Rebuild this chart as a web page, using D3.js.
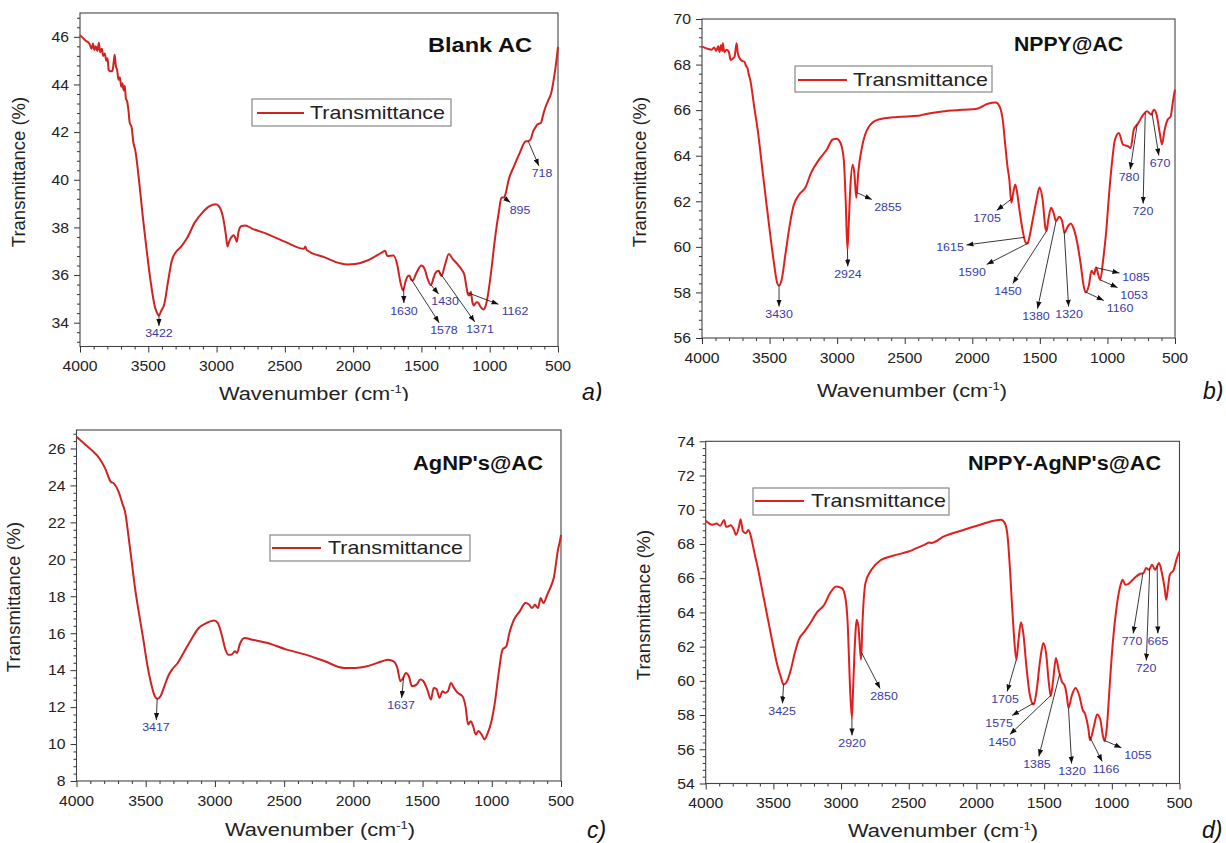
<!DOCTYPE html>
<html>
<head>
<meta charset="utf-8">
<script src="https://cdn.jsdelivr.net/npm/d3@7"></script>
<style>
  body { margin: 0; background: #fff; }
  svg { display: block; }
</style>
</head>
<body>
<svg id="fig" width="1226" height="843"></svg>
<script>
// ---------- FTIR spectra: wavenumber (cm-1) and transmittance (%) ----------

// a) Blank AC
const blankAcWn = [4000,3960,3930,3915,3905,3895,3885,3872,3862,3852,3840,3830,3818,3808,3798,3790,3776,3762,3752,3746,3738,3728,3718,3708,3698,3690,3680,3672,3664,3655,3645,3636,3622,3610,3594,3566,3538,3510,3482,3454,3435,3422,3405,3384,3356,3328,3300,3258,3216,3160,3104,3048,3006,2978,2950,2932,2920,2908,2890,2874,2862,2852,2840,2820,2790,2740,2628,2488,2360,2350,2340,2208,2100,2040,1984,1900,1788,1766,1750,1704,1676,1654,1634,1618,1600,1588,1574,1564,1536,1500,1476,1452,1430,1410,1396,1374,1354,1326,1300,1270,1228,1200,1185,1172,1160,1150,1138,1128,1116,1100,1088,1066,1046,1030,1018,990,962,934,914,895,880,864,822,780,738,718,700,682,665,654,640,626,610,598,570,550,528,514,500];
const blankAcT = [46.07,45.85,45.7,45.5,45.72,45.45,45.6,45.4,45.75,45.35,45.5,45.2,45.3,45.0,45.1,44.6,44.55,44.58,45.0,45.25,44.8,44.6,44.2,44.3,43.9,44.05,43.75,43.95,43.4,43.3,42.9,42.4,42.2,41.6,41.2,39.87,38.34,36.95,35.7,34.72,34.4,34.3,34.5,34.75,35.7,36.6,36.95,37.2,37.55,38.2,38.62,38.9,38.97,38.85,38.34,37.7,37.2,37.4,37.6,37.67,37.55,37.4,37.8,38.05,38.08,37.95,37.72,37.37,37.1,37.2,37.05,36.74,36.5,36.44,36.46,36.6,36.95,37.02,36.8,36.82,36.4,35.7,35.35,35.7,35.95,35.98,35.8,35.77,36.1,36.4,36.25,35.8,35.58,35.9,36.1,36.18,35.96,36.46,36.88,36.67,36.4,36.18,36.0,35.56,35.2,35.14,35.3,34.9,34.72,34.85,34.86,34.65,34.55,34.7,35.0,36.12,37.5,38.62,39.25,39.25,39.5,39.94,40.57,41.13,41.61,41.62,41.7,42.03,42.2,42.3,42.35,42.38,42.7,42.94,43.35,43.63,44.33,44.89,45.58];
const blankAcPeaks = [3422,1630,1578,1430,1371,1162,895,718];
const blankAcYTicks = [34,36,38,40,42,44,46];

// b) NPPY@AC
const nppyAcWn = [4000,3960,3930,3910,3895,3880,3870,3860,3850,3846,3835,3820,3802,3788,3775,3759,3744,3735,3721,3700,3686,3675,3663,3655,3643,3614,3585,3556,3527,3497,3468,3445,3430,3410,3381,3352,3323,3280,3236,3193,3134,3076,3033,3004,2975,2951,2937,2924,2917,2902,2885,2873,2858,2844,2815,2771,2699,2554,2400,2350,2205,2060,1973,1885,1827,1798,1775,1755,1740,1726,1711,1697,1682,1668,1648,1624,1605,1590,1581,1552,1524,1503,1480,1457,1450,1437,1417,1399,1380,1358,1335,1318,1292,1272,1248,1219,1196,1176,1161,1138,1118,1097,1085,1065,1053,1031,1010,987,964,944,915,885,849,828,805,772,735,707,676,656,636,613,596,579,555,532,517,505,500];
const nppyAcT = [68.79,68.7,68.65,68.75,68.6,68.8,68.55,68.85,68.6,68.94,68.55,68.65,68.57,68.2,68.25,68.35,68.94,68.5,68.28,68.15,68.13,67.95,67.84,67.6,67.33,66.16,65.0,63.54,62.08,60.62,59.31,58.45,58.3,58.58,59.75,60.91,61.79,62.3,62.59,63.25,63.83,64.27,64.71,64.74,64.56,63.83,62.08,59.89,60.62,62.66,63.6,63.25,62.15,63.25,64.41,65.22,65.58,65.7,65.75,65.82,65.95,66.02,66.05,66.28,66.33,66.16,65.58,64.41,63.54,62.96,61.94,62.37,62.74,62.37,61.5,60.62,60.19,60.15,60.33,61.21,62.08,62.6,62.08,60.77,60.7,61.21,61.72,61.5,61.13,61.32,61.13,60.62,60.91,61.03,60.77,60.04,59.16,58.29,58.0,58.29,58.95,58.8,59.09,58.73,58.55,59.46,60.62,62.37,63.83,64.71,65.0,64.49,64.42,64.34,65.14,65.43,65.8,65.95,65.8,66.02,65.8,65.0,64.49,65.07,65.58,65.73,66.31,66.75,66.9];
const nppyAcPeaks = [3430,2924,2855,1705,1615,1590,1450,1380,1320,1160,1085,1053,780,720,670];
const nppyAcYTicks = [56,58,60,62,64,66,68,70];

// c) AgNP's@AC
const agnpAcWn = [4000,3945,3890,3834,3793,3752,3730,3696,3669,3647,3627,3600,3572,3545,3517,3489,3462,3434,3417,3393,3365,3338,3310,3269,3227,3172,3117,3062,3006,2979,2951,2924,2904,2882,2855,2841,2819,2786,2730,2620,2482,2344,2206,2068,1985,1902,1792,1751,1709,1682,1660,1640,1621,1599,1577,1544,1516,1494,1466,1439,1420,1400,1378,1356,1337,1317,1295,1273,1246,1212,1190,1171,1152,1135,1116,1096,1074,1052,1033,1005,978,950,923,895,873,840,798,757,729,710,688,666,647,627,600,564,550,536,522,506,500];
const agnpAcT = [26.63,26.27,25.91,25.46,24.92,24.2,24.11,23.66,23.03,22.49,21.41,19.79,18.17,16.91,15.65,14.3,13.31,12.59,12.45,12.59,13.13,13.67,14.03,14.39,14.93,15.65,16.28,16.55,16.69,16.55,15.92,15.11,14.84,14.84,15.02,14.93,15.43,15.74,15.65,15.47,15.11,14.84,14.48,14.12,14.12,14.21,14.48,14.57,14.48,14.12,13.4,13.58,13.85,13.67,13.13,13.22,13.49,13.4,12.95,12.41,13.04,12.99,12.5,12.86,12.77,12.86,13.31,13.04,12.77,12.59,12.05,11.06,11.24,10.97,10.52,10.7,10.52,10.25,10.52,11.15,12.23,13.85,15.11,15.29,16.01,16.73,17.18,17.63,17.54,17.36,17.54,17.36,17.9,17.63,18.08,18.71,19.07,19.79,20.51,21.05,21.32];
const agnpAcPeaks = [3417,1637];
const agnpAcYTicks = [8,10,12,14,16,18,20,22,24,26];

// d) NPPY-AgNP's@AC
const nppyAgnpWn = [4000,3951,3920,3893,3864,3850,3835,3815,3791,3777,3754,3742,3725,3704,3684,3669,3655,3637,3617,3588,3559,3530,3501,3472,3443,3425,3400,3371,3342,3313,3269,3226,3182,3124,3081,3037,2994,2970,2950,2936,2920,2913,2901,2884,2872,2852,2843,2820,2776,2704,2617,2501,2385,2345,2335,2240,2095,1950,1863,1819,1790,1770,1752,1738,1724,1705,1689,1671,1654,1631,1608,1578,1558,1529,1506,1486,1465,1451,1433,1413,1393,1370,1346,1332,1320,1297,1268,1239,1216,1196,1172,1162,1132,1109,1085,1065,1053,1036,1016,993,964,935,920,900,877,834,790,767,746,726,703,680,651,630,610,598,587,572,543,523,506,500];
const nppyAgnpT = [69.35,69.12,69.2,69.06,69.4,69.0,69.02,69.1,68.82,68.53,69.02,69.45,68.73,68.63,68.82,68.53,68.05,67.37,66.68,65.52,64.35,63.18,62.02,60.95,60.17,59.78,59.97,60.65,61.63,62.4,62.89,63.38,63.96,64.45,65.13,65.52,65.42,64.93,63.18,60.07,57.83,59.1,61.63,63.57,63.18,61.24,63.18,65.71,66.49,67.07,67.31,67.56,67.95,68.08,68.06,68.44,68.82,69.18,69.37,69.41,69.21,68.44,66.49,64.54,62.79,61.24,62.4,63.42,62.79,60.85,59.29,58.61,59.29,61.24,62.21,61.63,59.88,59.1,60.07,61.33,60.65,59.97,59.68,59.1,58.42,59.1,59.58,59.1,58.32,58.03,57.15,56.53,57.35,58.03,57.74,56.76,56.47,57.35,59.68,62.21,64.35,65.61,65.91,65.61,65.67,66.0,66.26,66.3,66.59,66.49,66.78,66.49,66.88,66.3,65.42,64.74,65.32,66.2,66.49,67.07,67.46,67.56];
const nppyAgnpPeaks = [3425,2920,2850,1705,1575,1450,1385,1320,1166,1055,770,720,665];
const nppyAgnpYTicks = [54,56,58,60,62,64,66,68,70,72,74];

// shared x axis
const xTickValues = [4000,3500,3000,2500,2000,1500,1000,500];
const legendText = "Transmittance";

// ---------- layout ----------
const FONT = "'Liberation Sans', Arial, Helvetica, sans-serif";
const panels = [
  { wn: blankAcWn, tr: blankAcT, peaks: blankAcPeaks, yTicks: blankAcYTicks, yDomain: [33, 47],
    frame: { l: 80, r: 558, t: 13, b: 346.5 }, color: "#cf2222",
    title: { text: "Blank AC", x: 428, y: 52, w: 104 },
    legend: { x: 252, y: 99, w: 199, h: 27, lx0: 257, lx1: 304, tx: 310, ty: 119 },
    yTitle: { x: 25, y: 172 }, xTitle: { x: 314, y: 400 }, tag: { text: "a)", x: 582, y: 400 },
    labelAt: [[3422,33.55],[1628,34.51],[1335,33.68],[1327,34.89],[1071,33.72],[815,34.51],[778,38.73],[617,40.27]] },
  { wn: nppyAcWn, tr: nppyAcT, peaks: nppyAcPeaks, yTicks: nppyAcYTicks, yDomain: [56, 70],
    frame: { l: 702, r: 1175, t: 19, b: 338 }, color: "#e01f1f",
    title: { text: "NPPY@AC", x: 1014, y: 51, w: 109 },
    legend: { x: 795, y: 66, w: 197, h: 26, lx0: 798, lx1: 847, tx: 853, ty: 86 },
    yTitle: { x: 645.5, y: 172 }, xTitle: { x: 912, y: 397 }, tag: { text: "b)", x: 1203, y: 399 },
    labelAt: [[3430,57.05],[2920,58.81],[2624,61.75],[1891,61.27],[2165,59.99],[2002,58.9],[1736,58.06],[1529,56.96],[1284,57.05],[907,57.32],[789,58.68],[803,57.89],[840,63.07],[737,61.57],[611,63.68]] },
  { wn: agnpAcWn, tr: agnpAcT, peaks: agnpAcPeaks, yTicks: agnpAcYTicks, yDomain: [8, 27],
    frame: { l: 76.5, r: 561, t: 430, b: 781 }, color: "#cf2222",
    title: { text: "AgNP's@AC", x: 413, y: 470, w: 130 },
    legend: { x: 270, y: 535, w: 200, h: 26, lx0: 272, lx1: 321, tx: 328, ty: 554 },
    yTitle: { x: 19.5, y: 597 }, xTitle: { x: 320, y: 836 }, tag: { text: "c)", x: 587, y: 838 },
    labelAt: [[3426,10.9],[1656,12.09]] },
  { wn: nppyAgnpWn, tr: nppyAgnpT, peaks: nppyAgnpPeaks, yTicks: nppyAgnpYTicks, yDomain: [54, 74],
    frame: { l: 705.7, r: 1179.5, t: 441.3, b: 783.5 }, color: "#e01f1f",
    title: { text: "NPPY-AgNP's@AC", x: 968, y: 470, w: 193 },
    legend: { x: 753, y: 488, w: 196, h: 27, lx0: 755, lx1: 804, tx: 811, ty: 507 },
    yTitle: { x: 649.5, y: 605 }, xTitle: { x: 943, y: 837 }, tag: { text: "d)", x: 1202, y: 838 },
    labelAt: [[3436,58.24],[2919,56.37],[2683,59.11],[1789,58.94],[1833,57.54],[1811,56.43],[1553,55.14],[1294,54.73],[1043,54.85],[807,55.67],[851,62.33],[747,60.75],[659,62.33]] }
];

const svg = d3.select("#fig");
svg.append("rect").attr("width", 1226).attr("height", 843).attr("fill", "#fff");

const defs = svg.append("defs");
defs.append("marker")
  .attr("id", "head").attr("viewBox", "0 0 8 6")
  .attr("refX", 8).attr("refY", 3)
  .attr("markerWidth", 7).attr("markerHeight", 5.5)
  .attr("markerUnits", "userSpaceOnUse").attr("orient", "auto")
  .append("path").attr("d", "M0,0 L8,3 L0,6 Z").attr("fill", "#111");
// the top row is cut off just below its axis titles
defs.append("clipPath").attr("id", "topRow")
  .append("rect").attr("x", 0).attr("y", 0).attr("width", 1226).attr("height", 401);

// text drawn with a slight horizontal stretch
function stext(parent, x, y, str, o) {
  return parent.append("text")
    .attr("transform", `translate(${x},${y}) scale(${o.sx || 1},1)`)
    .attr("text-anchor", o.anchor || "start")
    .attr("font-family", FONT)
    .attr("font-size", o.size)
    .attr("font-weight", o.weight || "normal")
    .attr("font-style", o.style || "normal")
    .attr("fill", o.fill || "#222")
    .text(str);
}

function valueAt(wn, tr, w) {
  for (let i = 0; i < wn.length - 1; i++) {
    if (wn[i] >= w && wn[i + 1] <= w) {
      const f = (wn[i] - w) / (wn[i] - wn[i + 1]);
      return tr[i] + f * (tr[i + 1] - tr[i]);
    }
  }
  return tr[tr.length - 1];
}

panels.forEach((p, pi) => {
  const f = p.frame;
  const g = svg.append("g");
  if (pi < 2) g.attr("clip-path", "url(#topRow)");
  const x = d3.scaleLinear().domain([4000, 500]).range([f.l, f.r]);
  const y = d3.scaleLinear().domain(p.yDomain).range([f.b, f.t]);

  // minor ticks (4 between majors)
  const xMinor = d3.range(4000, 499, -100).filter(v => v % 500 !== 0);
  const yStep = (p.yTicks[1] - p.yTicks[0]) / 5;
  const yMinor = [];
  for (let v = p.yTicks[0] - 5 * yStep; v <= p.yDomain[1] + 1e-6; v += yStep) {
    const k = (v - p.yTicks[0]) / (5 * yStep);
    const isMajor = Math.abs(k - Math.round(k)) < 1e-6;
    if (v >= p.yDomain[0] - 1e-6 && !isMajor) yMinor.push(+v.toFixed(3));
  }

  g.append("g").attr("transform", `translate(0,${f.b})`)
    .call(d3.axisBottom(x).tickValues(xTickValues).tickSize(6).tickFormat(""));
  g.append("g").attr("transform", `translate(0,${f.b})`)
    .call(d3.axisBottom(x).tickValues(xMinor).tickSize(3).tickFormat(""));
  g.append("g").attr("transform", `translate(${f.l},0)`)
    .call(d3.axisLeft(y).tickValues(p.yTicks).tickSize(6).tickFormat(""));
  g.append("g").attr("transform", `translate(${f.l},0)`)
    .call(d3.axisLeft(y).tickValues(yMinor).tickSize(3).tickFormat(""));
  g.selectAll(".domain").remove();
  g.selectAll(".tick line").attr("stroke", "#333").attr("stroke-width", 1);

  // frame
  g.append("rect").attr("x", f.l).attr("y", f.t)
    .attr("width", f.r - f.l).attr("height", f.b - f.t)
    .attr("fill", "none").attr("stroke", "#444").attr("stroke-width", 1.1);

  // tick labels
  xTickValues.forEach(v => stext(g, x(v), f.b + 24.5, String(v), { size: 15, anchor: "middle", sx: 1.05 }));
  p.yTicks.forEach(v => stext(g, f.l - 11, y(v) + 5.3, String(v), { size: 15, anchor: "end", sx: 1.05 }));

  // axis titles
  const xt = stext(g, p.xTitle.x, p.xTitle.y, "", { size: 18.5, anchor: "middle", sx: 1.18 });
  xt.append("tspan").text("Wavenumber (cm");
  xt.append("tspan").attr("font-size", 11).attr("dy", -7.5).text("-1");
  xt.append("tspan").attr("dy", 7.5).text(")");
  g.append("text")
    .attr("transform", `translate(${p.yTitle.x},${p.yTitle.y}) rotate(-90)`)
    .attr("text-anchor", "middle").attr("font-family", FONT).attr("font-size", 18.5)
    .attr("fill", "#222").text("Transmittance (%)");

  // spectrum
  const pts = p.wn.map((w, i) => [w, p.tr[i]]);
  g.append("path").datum(pts)
    .attr("fill", "none").attr("stroke", p.color).attr("stroke-width", 2)
    .attr("stroke-linejoin", "round")
    .attr("d", d3.line().x(d => x(d[0])).y(d => y(d[1])).curve(d3.curveMonotoneX));

  // peak annotations
  p.peaks.forEach((w, i) => {
    const ax = x(w), ay = y(valueAt(p.wn, p.tr, w));
    const lx = x(p.labelAt[i][0]), ly = y(p.labelAt[i][1]);
    const txt = String(w);
    const hw = txt.length * 3.5 + 2.5, hh = 5 + 2.5;
    const dx = lx - ax, dy = ly - ay;
    const s = Math.min(Math.abs(dx) > 0.01 ? hw / Math.abs(dx) : Infinity,
                       Math.abs(dy) > 0.01 ? hh / Math.abs(dy) : Infinity);
    const tx = lx - dx * s, ty = ly - dy * s;
    g.append("line").attr("x1", ax).attr("y1", ay).attr("x2", tx).attr("y2", ty)
      .attr("stroke", "#222").attr("stroke-width", 0.9).attr("marker-end", "url(#head)");
    stext(g, lx, ly + 4, txt, { size: 11, anchor: "middle", sx: 1.13, fill: "#3a3aa6" });
  });

  // panel title
  g.append("text").attr("x", p.title.x).attr("y", p.title.y)
    .attr("font-family", FONT).attr("font-size", 19.5).attr("font-weight", "bold")
    .attr("fill", "#111").attr("textLength", p.title.w).attr("lengthAdjust", "spacingAndGlyphs")
    .text(p.title.text);

  // legend
  const L = p.legend;
  g.append("rect").attr("x", L.x).attr("y", L.y).attr("width", L.w).attr("height", L.h)
    .attr("fill", "#fff").attr("stroke", "#888").attr("stroke-width", 1.2);
  g.append("line").attr("x1", L.lx0).attr("x2", L.lx1)
    .attr("y1", L.ty - 6).attr("y2", L.ty - 6)
    .attr("stroke", p.color).attr("stroke-width", 2);
  g.append("text").attr("x", L.tx).attr("y", L.ty)
    .attr("font-family", FONT).attr("font-size", 18.5).attr("fill", "#222")
    .attr("textLength", 135).attr("lengthAdjust", "spacingAndGlyphs")
    .text(legendText);

  // panel tag
  stext(g, p.tag.x, p.tag.y, p.tag.text, { size: 23, style: "italic", fill: "#111" });
});
</script>
</body>
</html>
